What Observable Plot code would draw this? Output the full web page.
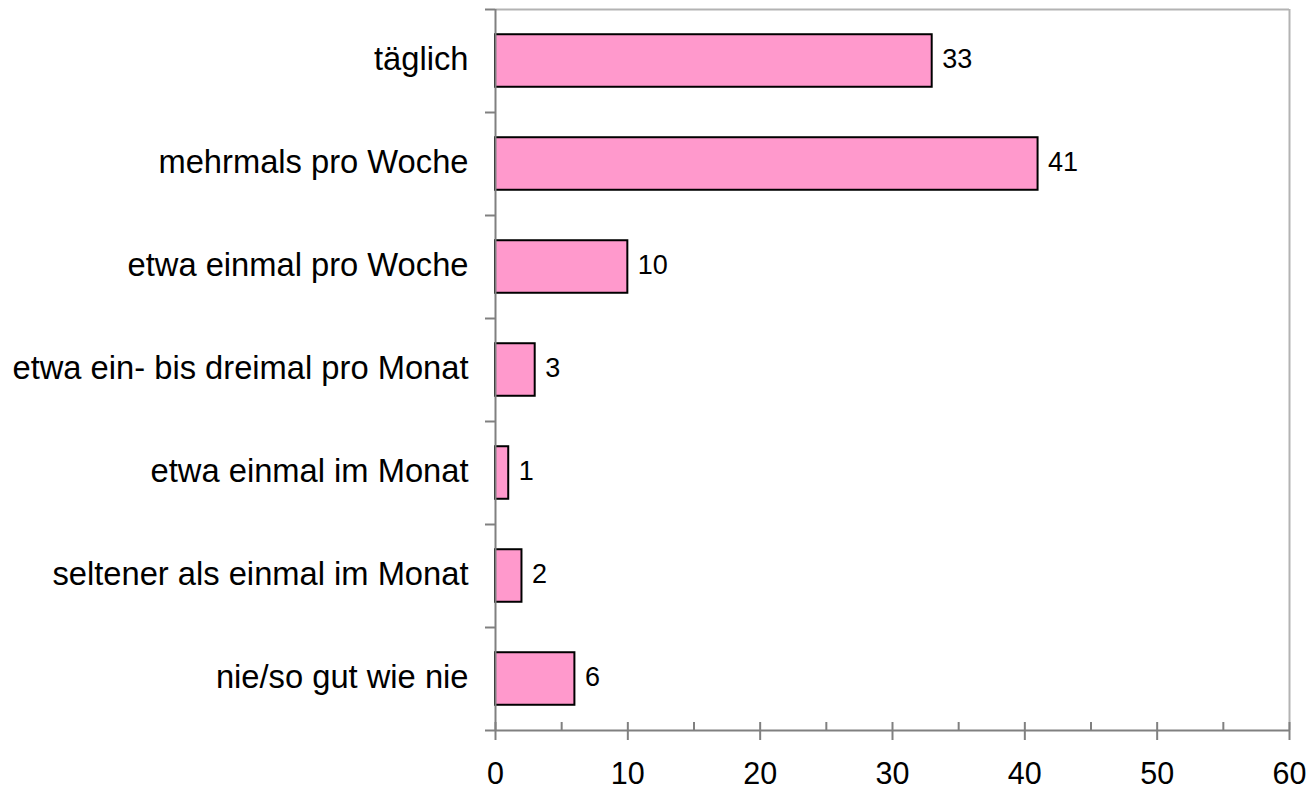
<!DOCTYPE html>
<html><head><meta charset="utf-8">
<script src="https://cdn.jsdelivr.net/npm/d3@7"></script>
<script src="https://cdn.jsdelivr.net/npm/@observablehq/plot@0.6"></script>
<style>body{margin:0;background:#fff} svg{display:block}</style>
</head><body><div id="chart"></div>
<script>
const categories = ["täglich","mehrmals pro Woche","etwa einmal pro Woche","etwa ein- bis dreimal pro Monat","etwa einmal im Monat","seltener als einmal im Monat","nie/so gut wie nie"];
const values = [33,41,10,3,1,2,6];
const majorTicks = [0,10,20,30,40,50,60];
const minorTicks = [5,15,25,35,45,55];

const data = categories.map((c,i)=>({c, i, v: values[i]}));
const boundaries = d3.range(categories.length+1);
const centers = categories.map((c,i)=>i+0.5);

const chart = Plot.plot({
  width:1309, height:790, marginLeft:495, marginRight:20, marginTop:9, marginBottom:60,
  style:{fontFamily:"'Liberation Sans', Arial, sans-serif", background:"#fff", color:"#000"},
  x:{domain:[0,60]},
  y:{domain:[0,categories.length], reverse:true},
  marks:[
    Plot.ruleY([0], {stroke:"#b3b3b3", strokeWidth:2}),
    Plot.ruleX([60], {stroke:"#b3b3b3", strokeWidth:2}),
    Plot.rectX(data, {x1:0, x2:"v", y1:d=>d.i+0.245, y2:d=>d.i+0.755, fill:"#FF99CC", stroke:"#000", strokeWidth:2}),
    Plot.text(data, {x:"v", y:d=>d.i+0.5, text:d=>String(d.v), textAnchor:"start", dx:10, dy:-2, fontSize:27, fill:"#000"}),
    Plot.ruleX([0], {stroke:"#808080", strokeWidth:2}),
    Plot.ruleY([categories.length], {stroke:"#808080", strokeWidth:2}),
    Plot.axisY(boundaries, {tickSize:10, tickFormat:()=>"", stroke:"#808080", strokeWidth:2, label:null}),
    Plot.axisY(centers, {tickSize:0, tickPadding:27, dy:-1, tickFormat:d=>categories[Math.floor(d)], fontSize:32.7, fill:"#000", label:null}),
    Plot.axisX(majorTicks, {tickSize:18, dy:-8, tickFormat:()=>"", stroke:"#808080", strokeWidth:2, label:null}),
    Plot.axisX(minorTicks, {tickSize:8, dy:-8, tickFormat:()=>"", stroke:"#808080", strokeWidth:2, label:null}),
    Plot.axisX(majorTicks, {tickSize:0, tickPadding:32, fontSize:30.5, fill:"#000", label:null})
  ]
});
document.getElementById("chart").appendChild(chart);
</script>
</body></html>
